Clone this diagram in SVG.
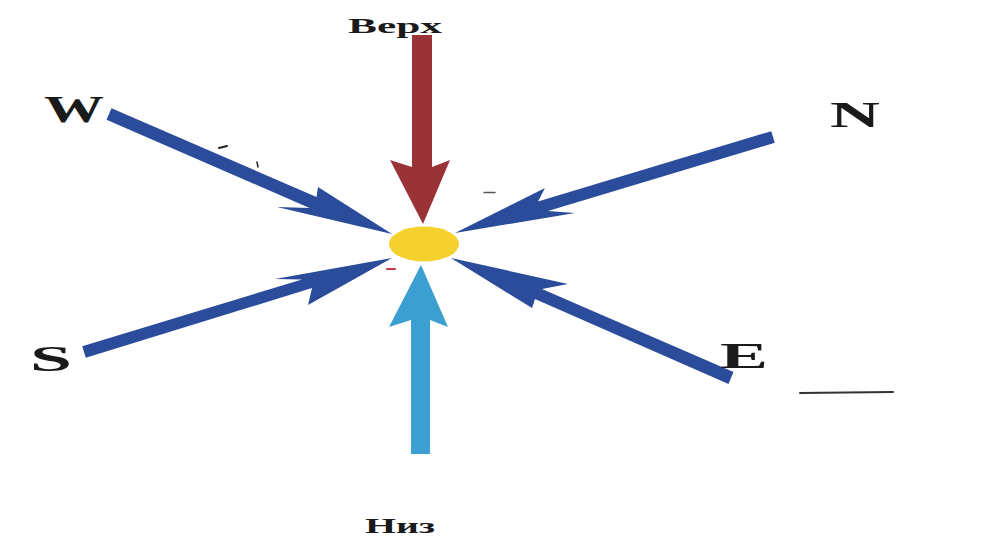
<svg xmlns="http://www.w3.org/2000/svg" width="998" height="540" viewBox="0 0 998 540">
  <style>
    .blue { fill: #2b4c9b; }
    .red { fill: #9a3337; }
    .light { fill: #3b9fd1; }
    .sun { fill: #f5d130; }
    .lbl { font-family: "Liberation Serif", "DejaVu Serif", serif; font-weight: bold; fill: #1a1a1a; }
    .mark { stroke-linecap: round; fill: none; }
  </style>
  <rect width="998" height="540" fill="#ffffff"/>

  <g id="connectors">
    <polygon id="arrow-top" class="red" points="412,35 432,35 432,167 450,160 423,224 390,160 412,167"/>
    <polygon id="arrow-bottom" class="light" points="411,454 411,320 389,327 421,265 448,327 430,320 430,454"/>
    <polygon id="arrow-w" class="blue" points="111.5,108.3 316.5,197 318,187 392,234 277,207 309.5,208 106.5,119.7"/>
    <polygon id="arrow-n" class="blue" points="771.2,131.2 538,201.5 545,188 455,233 575,213 548,211 774.8,142.8"/>
    <polygon id="arrow-s" class="blue" points="82.2,346.2 302,279.5 275,279 392,258 308,305 312,288 85.8,357.8"/>
    <polygon id="arrow-e" class="blue" points="733.5,372 542,289 568,284 451,258 532,308 535,299 728.5,384"/>
  </g>

  <g id="center">
    <ellipse class="sun" cx="424" cy="244" rx="35" ry="17.5"/>
  </g>

  <g id="label-top"><text class="lbl" x="348" y="33" font-size="22" textLength="94" lengthAdjust="spacingAndGlyphs">Верх</text></g>
  <g id="label-bottom"><text class="lbl" x="365" y="533" font-size="21" textLength="70" lengthAdjust="spacingAndGlyphs">Низ</text></g>
  <g id="label-w"><text class="lbl" x="44" y="122" font-size="38" textLength="60" lengthAdjust="spacingAndGlyphs">W</text></g>
  <g id="label-n"><text class="lbl" x="830" y="127" font-size="36" textLength="50" lengthAdjust="spacingAndGlyphs">N</text></g>
  <g id="label-s"><text class="lbl" x="30" y="371" font-size="36" textLength="42" lengthAdjust="spacingAndGlyphs">S</text></g>
  <g id="label-e"><text class="lbl" x="720" y="368" font-size="36" textLength="48" lengthAdjust="spacingAndGlyphs">E</text></g>

  <g id="marks">
    <line class="mark" x1="800" y1="393" x2="893" y2="392" stroke="#333" stroke-width="2"/>
    <line class="mark" x1="387" y1="269" x2="395" y2="269" stroke="#c0394a" stroke-width="2"/>
    <line class="mark" x1="484" y1="192.5" x2="495" y2="192.5" stroke="#555" stroke-width="1.5"/>
    <line class="mark" x1="219" y1="148" x2="227" y2="146" stroke="#222" stroke-width="2"/>
    <line class="mark" x1="257" y1="162" x2="258" y2="167" stroke="#222" stroke-width="1.5"/>
  </g>
</svg>
